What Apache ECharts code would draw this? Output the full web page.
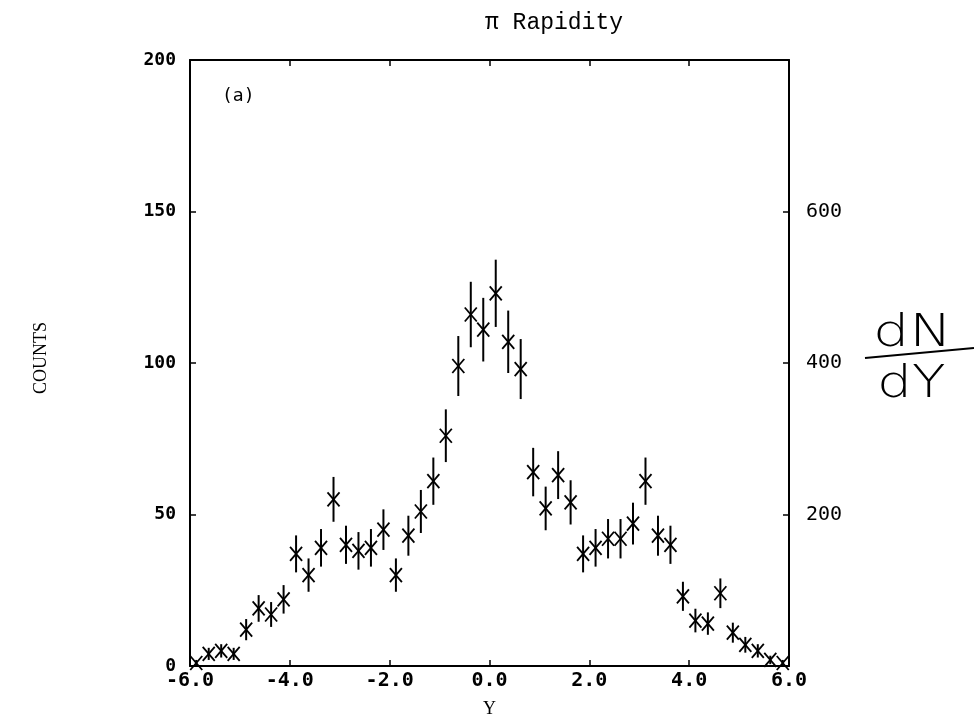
<!DOCTYPE html>
<html><head><meta charset="utf-8">
<script src="https://cdn.jsdelivr.net/npm/echarts@6/dist/echarts.min.js"></script>
<style>html,body{margin:0;padding:0;background:#fff}#c{width:974px;height:723px}</style>
</head><body><div id="c"></div>
<script>
const rapidity = [-5.875,-5.625,-5.375,-5.125,-4.875,-4.625,-4.375,-4.125,-3.875,-3.625,-3.375,-3.125,
  -2.875,-2.625,-2.375,-2.125,-1.875,-1.625,-1.375,-1.125,-0.875,-0.625,-0.375,-0.125,
  0.125,0.375,0.625,0.875,1.125,1.375,1.625,1.875,2.125,2.375,2.625,2.875,3.125,3.375,3.625,3.875,
  4.125,4.375,4.625,4.875,5.125,5.375,5.625,5.875];
const counts = [1,4,5,4,12,19,17,22,37,30,39,55,40,38,39,45,30,43,51,61,76,99,116,111,
  123,107,98,64,52,63,54,37,39,42,42,47,61,43,40,23,15,14,24,11,7,5,2,1];
const errors = [1,2,2.2,2,3.5,4.4,4.1,4.7,6.1,5.5,6.2,7.4,6.3,6.2,6.2,6.7,5.5,6.6,7.1,7.8,8.7,9.9,10.8,10.5,
  11.1,10.3,9.9,8,7.2,7.9,7.3,6.1,6.2,6.5,6.5,6.9,7.8,6.6,6.3,4.8,3.9,3.7,4.9,3.3,2.6,2.2,1.4,1];
const xTicks = ['-6.0','-4.0','-2.0','0.0','2.0','4.0','6.0'];
const rightTicks = ['200','400','600'];

const chart = echarts.init(document.getElementById('c'), null, {renderer:'canvas'});
const pts = rapidity.map((x,i)=>[x, counts[i], errors[i]]);
const mono = 'DejaVu Sans Mono';
const serif = 'Liberation Serif';
chart.setOption({
  backgroundColor:'#fff',
  animation:false,
  title:{text:'\u03c0 Rapidity', left:549, top:6, textAlign:'center',
    textStyle:{fontFamily:'Liberation Mono', fontSize:23, fontWeight:'normal', color:'#000'}},
  grid:{left:190, right:185, top:60, bottom:55},
  xAxis:[{type:'value', min:-6, max:6, interval:2, position:'bottom',
    name:'Y', nameLocation:'middle', nameGap:34,
    nameTextStyle:{fontFamily:serif, fontSize:18, color:'#000'},
    axisLine:{onZero:false, lineStyle:{color:'#000', width:2}},
    axisTick:{inside:true, length:6, lineStyle:{color:'#000', width:1.5}},
    axisLabel:{fontFamily:mono, fontWeight:'bold', fontSize:20, color:'#000', margin:5,
      formatter:v=>xTicks[Math.round((v+6)/2)]},
    splitLine:{show:false}},
   {type:'value', min:-6, max:6, interval:2, position:'top',
    axisLine:{onZero:false, lineStyle:{color:'#000', width:2}},
    axisTick:{inside:true, length:6, lineStyle:{color:'#000', width:1.5}},
    axisLabel:{show:false}, splitLine:{show:false}}],
  yAxis:[{type:'value', min:0, max:200, interval:50, position:'left',
    axisLine:{show:true, onZero:false, lineStyle:{color:'#000', width:2}},
    axisTick:{show:true, inside:true, length:6, lineStyle:{color:'#000', width:1.5}},
    axisLabel:{fontFamily:mono, fontWeight:'bold', fontSize:18, color:'#000', margin:14},
    splitLine:{show:false}},
   {type:'value', min:0, max:800, interval:200, position:'right',
    axisLine:{show:true, onZero:false, lineStyle:{color:'#000', width:2}},
    axisTick:{show:true, inside:true, length:6, lineStyle:{color:'#000', width:1.5}},
    axisLabel:{fontFamily:mono, fontSize:20, color:'#000', margin:17,
      formatter:v=>{const s=String(v);return rightTicks.indexOf(s)>=0?s:'';}},
    splitLine:{show:false}}],
  graphic:[
    {type:'text', left:222, top:87, style:{text:'(a)', font:'18px "DejaVu Sans Mono"', fill:'#000'}},
    {type:'text', x:41, y:358, rotation:Math.PI/2,
      style:{text:'COUNTS', font:'18px "Liberation Serif"', fill:'#000', align:'center', verticalAlign:'middle'}},
    {type:'text', x:873, y:313, scaleX:1.3,
      style:{text:'dN', font:'200 44px "DejaVu Sans"', fill:'#000'}},
    {type:'line', shape:{x1:865,y1:358,x2:974,y2:348}, style:{stroke:'#000', lineWidth:2.2}},
    {type:'text', x:877, y:364, scaleX:1.25,
      style:{text:'dY', font:'200 44px "DejaVu Sans"', fill:'#000'}}
  ],
  series:[{
    type:'custom', xAxisIndex:0, yAxisIndex:0, data:pts, clip:false,
    encode:{x:0, y:1},
    renderItem:function(params, api){
      const x = api.value(0), y = api.value(1), e = api.value(2);
      const c = api.coord([x, y]);
      const t = api.coord([x, y + e]);
      const b = api.coord([x, Math.max(0, y - e)]);
      const s = 6;
      return {type:'group', children:[
        {type:'line', shape:{x1:c[0], y1:t[1], x2:c[0], y2:b[1]}, style:{stroke:'#000', lineWidth:2}},
        {type:'line', shape:{x1:c[0]-s, y1:c[1]-s-1, x2:c[0]+s, y2:c[1]+s+1}, style:{stroke:'#000', lineWidth:1.8}},
        {type:'line', shape:{x1:c[0]-s, y1:c[1]+s+1, x2:c[0]+s, y2:c[1]-s-1}, style:{stroke:'#000', lineWidth:1.8}}
      ]};
    }
  }]
});
</script></body></html>
